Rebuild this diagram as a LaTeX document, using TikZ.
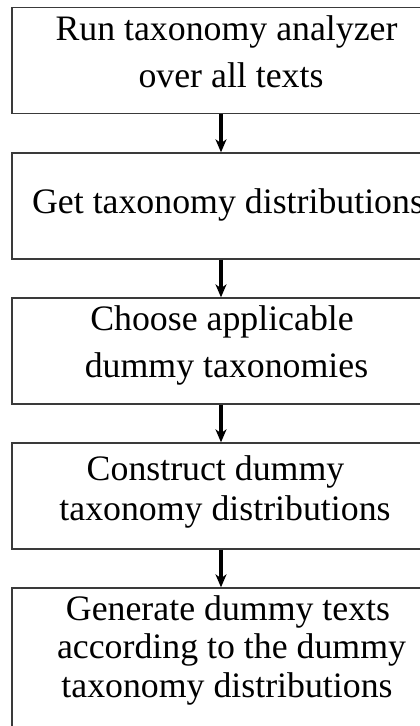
\documentclass[tikz,border=0pt]{standalone}
\usepackage{fontspec}
\setmainfont{Liberation Serif}
\usetikzlibrary{arrows.meta}
\definecolor{boxline}{HTML}{3A3A3A}
\tikzset{
  stepbox/.style={draw=boxline, line width=1.4pt, rectangle, inner sep=0pt,
    minimum width=418pt, minimum height=106pt},
  steptext/.style={anchor=base, inner sep=0pt, text=black,
    font=\fontsize{35.8}{40}\selectfont},
  flow/.style={line width=3.2pt, -{Stealth[length=13pt,width=11pt,inset=4pt]}},
}
\begin{document}
\begin{tikzpicture}[x=1pt,y=-1pt]
  \useasboundingbox (0,0) rectangle (420,726);
  \clip (0,0) rectangle (420,726);
  \fill[white] (0,0) rectangle (420,726);

  % process steps
  \node[stepbox] (b1) at (221,60.5) {};
  \node[stepbox] (b2) at (221,206) {};
  \node[stepbox] (b3) at (221,351) {};
  \node[stepbox] (b4) at (221,496) {};
  \node[stepbox, minimum height=150pt] (b5) at (221,663) {};

  % step labels
  \node[steptext] (t1a) at (226.5,40) {Run taxonomy analyzer};
  \node[steptext] (t1b) at (231,87) {over all texts};
  \node[steptext] (t2) at (228,213) {Get taxonomy distributions};
  \node[steptext] (t3a) at (222,330) {Choose applicable};
  \node[steptext] (t3b) at (226.5,377) {dummy taxonomies};
  \node[steptext] (t4a) at (215.5,480) {Construct dummy};
  \node[steptext] (t4b) at (225,520) {taxonomy distributions};
  \node[steptext] (t5a) at (228,620) {Generate dummy texts};
  \node[steptext] (t5b) at (231.5,658) {according to the dummy};
  \node[steptext] (t5c) at (227,697) {taxonomy distributions};

  % flow arrows
  \coordinate (ax) at (221,0);
  \draw[flow] (b1.south -| ax) -- (b2.north -| ax);
  \draw[flow] (b2.south -| ax) -- (b3.north -| ax);
  \draw[flow] (b3.south -| ax) -- (b4.north -| ax);
  \draw[flow] (b4.south -| ax) -- (b5.north -| ax);
\end{tikzpicture}
\end{document}
